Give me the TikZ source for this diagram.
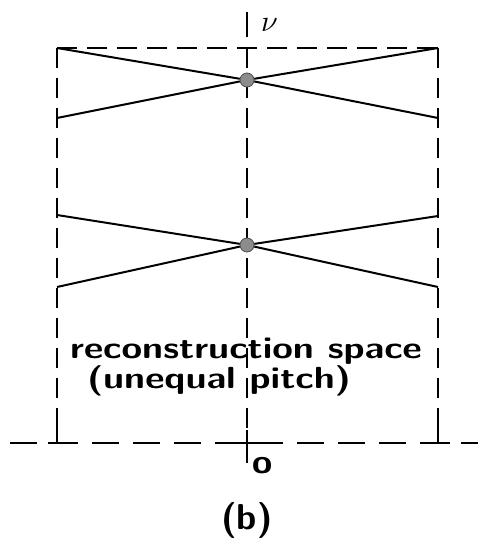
\documentclass[tikz,border=0pt]{standalone}
\begin{document}
\begin{tikzpicture}[x=1pt,y=-1pt,
  solidline/.style={line width=2pt},
  boxdash/.style={line width=2pt,dash pattern=on 20pt off 10pt},
  axisdash/.style={line width=2pt,dash pattern=on 27pt off 14pt},
  dot/.style={circle,draw=black!70,line width=0.8pt,fill=black!45,minimum size=14pt,inner sep=0pt},
  lbl/.style={font=\sffamily\bfseries\fontsize{30.5}{34}\selectfont,inner sep=0pt}]
\useasboundingbox (0,0) rectangle (478,553);
% coordinates
\coordinate (TL) at (57,48);
\coordinate (TR) at (438,48);
\coordinate (BL) at (57,443);
\coordinate (BR) at (438,443);
\coordinate (AL) at (10,443);
\coordinate (AR) at (478,443);
\coordinate (CT) at (247,12);
\coordinate (CTb) at (247,37);
\coordinate (CB) at (247,463);
% box
\draw[boxdash] (TL) -- (TR);
\draw[boxdash] (TL) -- (BL);
\draw[boxdash] (TR) -- (BR);
\draw[axisdash] (AL) -- (AR);
% centre axis
\draw[solidline] (CT) -- (CTb);
\draw[boxdash] (247,48) -- (247,430);
\draw[solidline] (247,430) -- (CB);
% ticks
\draw[solidline] (57,423) -- (57,443);
\draw[solidline] (438,423) -- (438,443);
\draw[solidline] (48,443) -- (72,443);
\draw[solidline] (422,443) -- (450,443);
\draw[solidline] (237,443) -- (268,443);
% X shapes
\node[dot] (c1) at (247,80) {};
\node[dot] (c2) at (247,245) {};
\coordinate (u1) at (57,48);
\coordinate (u2) at (438,118);
\coordinate (u3) at (57,118);
\coordinate (u4) at (438,48);
\draw[solidline] (u1) -- (c1) -- (u2);
\draw[solidline] (u3) -- (c1) -- (u4);
\coordinate (l1) at (57,215);
\coordinate (l2) at (438,287);
\coordinate (l3) at (57,287);
\coordinate (l4) at (438,216);
\draw[solidline] (l1) -- (c2) -- (l2);
\draw[solidline] (l3) -- (c2) -- (l4);
% labels
\node[inner sep=0pt,anchor=base west] (nu) at (261,32) {\scalebox{3}{$\nu$}};
\node[lbl,anchor=base] (t1) at (246,358) {\scalebox{1.23}[1]{reconstruction space}};
\node[lbl,anchor=base] (t2) at (219,388) {\scalebox{1.23}[1]{(unequal pitch)}};
\node[lbl,font=\sffamily\bfseries\fontsize{34}{38}\selectfont,anchor=base west] (o) at (252,473) {\scalebox{1.08}[1]{o}};
\node[lbl,font=\sffamily\bfseries\fontsize{36}{40}\selectfont,anchor=base] (b) at (247,529) {(b)};
\end{tikzpicture}
\end{document}
